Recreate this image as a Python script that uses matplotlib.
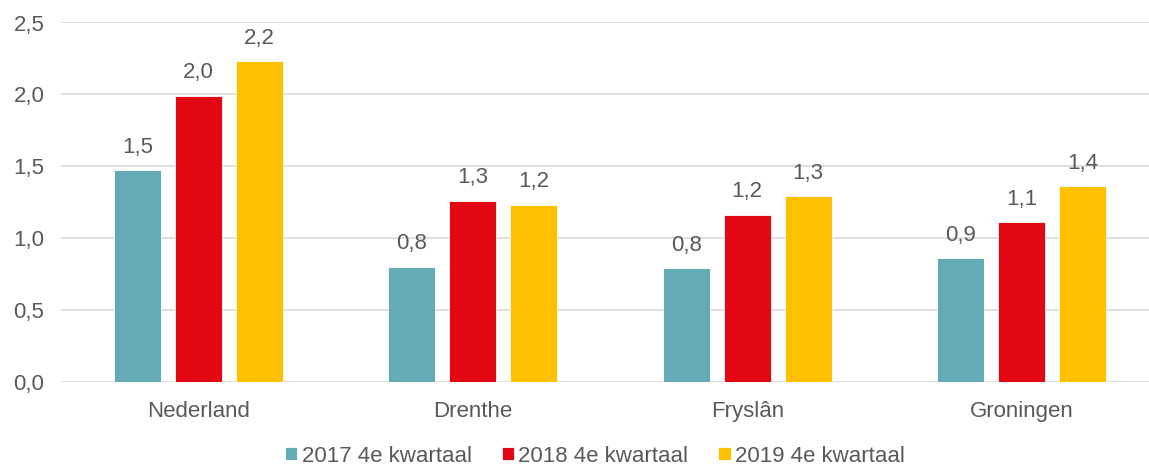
import matplotlib
matplotlib.use("Agg")
import matplotlib.pyplot as plt
import numpy as np

categories = ["Nederland", "Drenthe", "Fryslân", "Groningen"]
series_names = ["2017 4e kwartaal", "2018 4e kwartaal", "2019 4e kwartaal"]
v2017 = [1.47, 0.80, 0.79, 0.86]
v2018 = [1.99, 1.26, 1.16, 1.11]
v2019 = [2.23, 1.23, 1.29, 1.36]
colors = ["#65ABB7", "#E30613", "#FFC000"]
yticks = [0.0, 0.5, 1.0, 1.5, 2.0, 2.5]

plt.rcParams['font.family'] = ['Liberation Sans', 'DejaVu Sans']
txt = "#595959"
fs = 16

fig = plt.figure(figsize=(11.49, 4.65), dpi=100)
ax = fig.add_axes([61/1149, 1-381.5/465, (1159-61)/1149, (381.5-22.5)/465])

x = np.arange(len(categories))
width = 0.172
pitch = 0.222
for i, (vals, name) in enumerate(zip([v2017, v2018, v2019], series_names)):
    pos = x + (i - 1) * pitch
    ax.bar(pos, vals, width, color=colors[i], label=name, zorder=3,
           edgecolor="white", linewidth=0.6)
    for p, v in zip(pos, vals):
        ax.annotate(f"{v:.1f}".replace(".", ","), (p, v), xytext=(0, 9),
                    textcoords="offset points", ha="center", va="bottom",
                    fontsize=fs, color=txt)

ax.set_xlim(-0.5, len(categories) - 0.5)
ax.set_ylim(0, 2.5)
ax.set_yticks(yticks)
ax.set_yticklabels([f"{t:.1f}".replace(".", ",") for t in yticks], fontsize=fs, color=txt)
ax.set_xticks(x)
ax.set_xticklabels(categories, fontsize=fs, color=txt)
ax.tick_params(axis="both", length=0)
ax.tick_params(axis="y", pad=12)
ax.tick_params(axis="x", pad=14)
ax.grid(axis="y", color="#D9D9D9", linewidth=1.2, zorder=0)
for s in ax.spines.values():
    s.set_visible(False)

fig.legend(loc="center", bbox_to_anchor=(595/1149, 1-456/465), ncol=3, frameon=False,
           fontsize=fs, labelcolor=txt, handlelength=0.55, handleheight=0.55,
           handletextpad=0.2, columnspacing=1.35, borderpad=0)

fig.savefig("out.png", dpi=100)
